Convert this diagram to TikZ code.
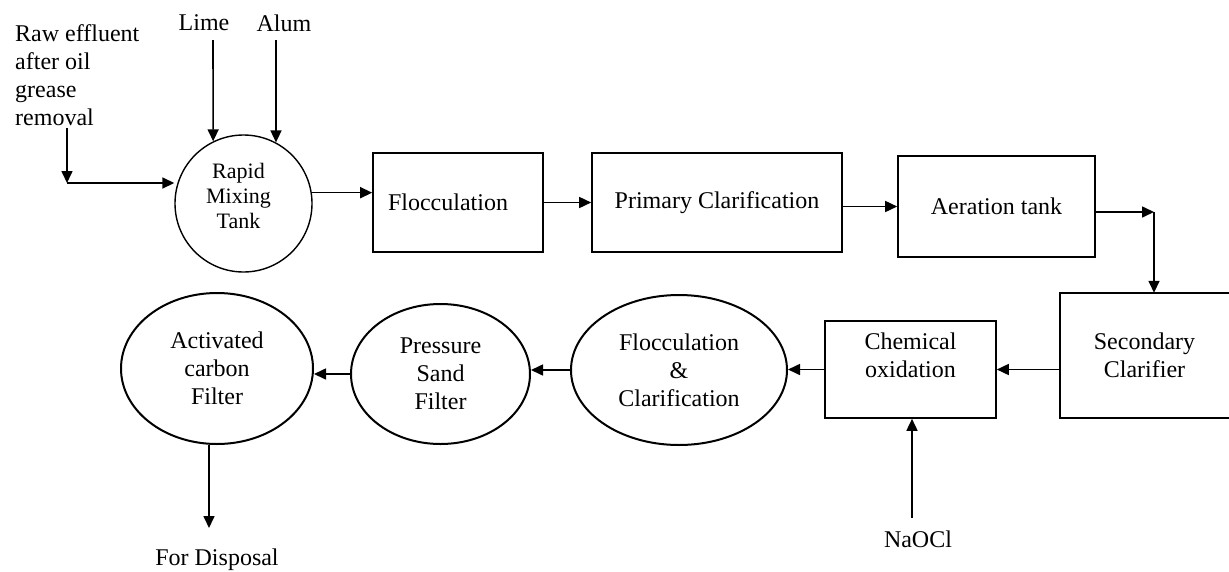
\documentclass[tikz,border=0pt]{standalone}
\usepackage{fontspec}
\setmainfont{Liberation Serif}
\usetikzlibrary{arrows.meta,shapes.geometric}
\begin{document}
\begin{tikzpicture}[x=1pt,y=-1pt,
  every node/.style={font=\fontsize{24}{28}\selectfont, inner sep=0pt},
  stagebox/.style={draw, rectangle, line width=1.6pt},
  stageell/.style={draw, ellipse, line width=2pt, align=center},
  flow/.style={line width=1.6pt, -{Triangle[length=12pt,width=11pt]}},
  plainline/.style={line width=1.6pt}]
\useasboundingbox (0,0) rectangle (1229,571);

% labels of inputs / outputs
\node[align=left, anchor=north west] (raw) at (15,24) {Raw effluent\\after oil\\grease\\removal};
\node (lime) at (204,23) {Lime};
\node (alum) at (284,23) {Alum};
\node (naocl) at (918,539) {NaOCl};
\node (disp) at (217,560) {For Disposal};

% process units, top row
\node[draw, circle, line width=1.4pt, minimum size=137pt,
      label={[name=rmt, align=center, xshift=-5pt, yshift=8pt, font=\fontsize{22}{25}\selectfont]center:Rapid\\Mixing\\Tank}]
      (rm) at (243.5,203.5) {};
\node[stagebox, minimum width=170pt, minimum height=99pt,
      label={[name=floct, xshift=-10pt]center:Flocculation}] (floc) at (458,202.5) {};
\node[stagebox, minimum width=250pt, minimum height=99pt] (prim) at (717,202.5) {Primary Clarification};
\node[stagebox, minimum width=197pt, minimum height=101pt] (aer) at (996.5,206.5) {Aeration tank};

% process units, bottom row
\node[minimum width=169pt, minimum height=125pt, align=center] (sec) at (1144.5,355.5) {Secondary\\Clarifier};
\draw[plainline] (sec.north east) -- (sec.north west) -- (sec.south west) -- (sec.south east);
\node[stagebox, minimum width=171pt, minimum height=97pt,
      label={[name=chemt, align=center, yshift=14pt]center:Chemical\\oxidation}] (chem) at (910.5,369.5) {};
\node[stageell, minimum width=216pt, minimum height=150pt] (fc) at (679,370) {Flocculation\\\&\\Clarification};
\node[stageell, minimum width=179pt, minimum height=140pt] (psf) at (440.5,374) {Pressure\\Sand\\Filter};
\node[stageell, minimum width=192pt, minimum height=151pt] (acf) at (217,368.5) {Activated\\carbon\\Filter};

% connectors
\coordinate (rawtop) at (67,128);
\coordinate (rawbend) at (67,183);
\draw[flow] (rawtop) -- (rawbend);
\draw[flow] (rawbend) -- (rawbend -| rm.west);
\coordinate (limebot) at (213,40);
\draw[flow] (limebot) -- (rm.116);
\coordinate (alumbot) at (276,40);
\draw[flow] (alumbot) -- (rm.62);
\draw[flow] (rm.9) -- (rm.9 -| floc.west);
\draw[flow] (floc.east) -- (prim.west);
\draw[flow] (aer.west -| prim.east) -- (aer.west);
\coordinate (aerbend) at (1154,212);
\draw[flow] (aerbend -| aer.east) -- (aerbend);
\draw[flow] (aerbend) -- (aerbend |- sec.north);
\draw[flow] (chem.east -| sec.west) -- (chem.east);
\coordinate (nabot) at (912,518);
\draw[flow] (nabot) -- (nabot |- chem.south);
\draw[flow] (chem.west) -- (chem.west -| fc.east);
\draw[flow] (fc.west) -- (fc.west -| psf.east);
\draw[flow] (psf.west) -- (psf.west -| acf.east);
\coordinate (dispin) at (209,528);
\draw[flow] (dispin |- acf.south) -- (dispin);
\end{tikzpicture}
\end{document}
